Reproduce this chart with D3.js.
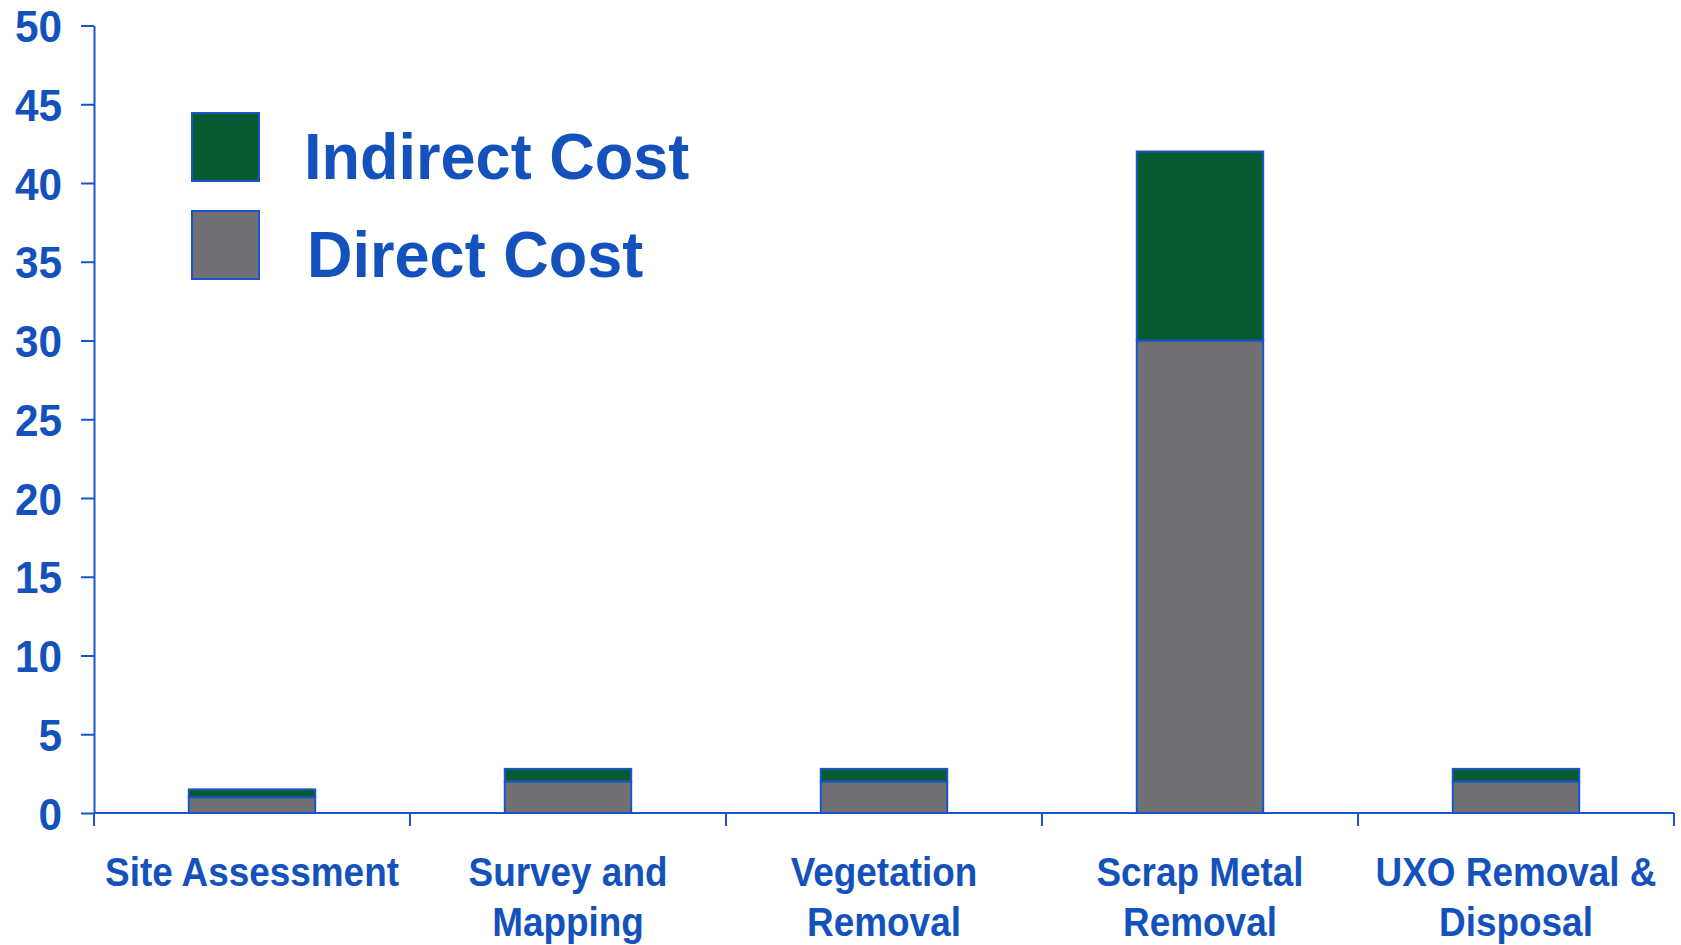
<!DOCTYPE html>
<html>
<head>
<meta charset="utf-8">
<script src="https://cdn.jsdelivr.net/npm/d3@7"></script>
<style>
  html, body { margin: 0; padding: 0; background: #fff; }
  svg { display: block; }
  text { font-family: "Liberation Sans", Arial, sans-serif; font-weight: bold; fill: #1352bd; }
</style>
</head>
<body>
<svg id="chart" width="1681" height="945"></svg>
<script>
// Cost breakdown per clearance activity
const categories = [
  ["Site Assessment"],
  ["Survey and", "Mapping"],
  ["Vegetation", "Removal"],
  ["Scrap Metal", "Removal"],
  ["UXO Removal &", "Disposal"]
];
const directCost   = [1, 2, 2, 30, 2];
const indirectCost = [0.5, 0.8, 0.8, 12, 0.8];
const yTicks = [0, 5, 10, 15, 20, 25, 30, 35, 40, 45, 50];
const seriesNames = ["Indirect Cost", "Direct Cost"];

const BLUE = "#1a55c8";
const GREEN = "#075a32";
const GREY = "#717074";

const svg = d3.select("#chart");
const plotLeft = 94, plotRight = 1674, plotTop = 25.5, plotBottom = 813;

const keys = categories.map(c => c.join(" "));
const x = d3.scaleBand().domain(keys).range([plotLeft, plotRight]).paddingInner(0).paddingOuter(0);
const y = d3.scaleLinear().domain([0, 50]).range([plotBottom, plotTop]);

const rows = keys.map((k, i) => ({ key: k, direct: directCost[i], indirect: indirectCost[i] }));
const stacked = d3.stack().keys(["direct", "indirect"])(rows);
const fills = { direct: GREY, indirect: GREEN };

const barW = x.bandwidth() * 0.4;

// stacked bars
svg.append("g").selectAll("g")
  .data(stacked)
  .join("g")
  .attr("fill", d => fills[d.key])
  .selectAll("rect")
  .data(d => d)
  .join("rect")
  .attr("x", d => x(d.data.key) + (x.bandwidth() - barW) / 2)
  .attr("y", d => y(d[1]))
  .attr("width", barW)
  .attr("height", d => y(d[0]) - y(d[1]))
  .attr("stroke", BLUE)
  .attr("stroke-width", 2);

// y axis
const yAxis = svg.append("g").attr("transform", `translate(${plotLeft},0)`)
  .call(d3.axisLeft(y).tickValues(yTicks).tickSize(13).tickSizeOuter(0).tickPadding(0));
yAxis.select(".domain").attr("stroke", BLUE).attr("stroke-width", 2);
yAxis.selectAll(".tick line").attr("stroke", BLUE).attr("stroke-width", 2);
yAxis.selectAll(".tick text").remove();
yAxis.selectAll(".tick").append("g")
  .attr("transform", "translate(-32,0) scale(0.94,1)")
  .append("text")
  .attr("text-anchor", "end")
  .attr("dy", "0.36em")
  .attr("font-size", 45)
  .text(d => d);

// x axis baseline and band boundary ticks
const xg = svg.append("g");
xg.append("line")
  .attr("x1", plotLeft).attr("x2", plotRight)
  .attr("y1", y(0)).attr("y2", y(0))
  .attr("stroke", BLUE).attr("stroke-width", 2);
const bounds = keys.map(k => x(k)).concat([x.range()[1]]);
xg.selectAll("line.tick")
  .data(bounds)
  .join("line")
  .attr("class", "tick")
  .attr("x1", d => d).attr("x2", d => d)
  .attr("y1", y(0)).attr("y2", y(0) + 13)
  .attr("stroke", BLUE).attr("stroke-width", 2);

// category labels
const labels = svg.append("g").selectAll("g")
  .data(categories)
  .join("g")
  .attr("transform", (d, i) => `translate(${x(keys[i]) + x.bandwidth() / 2},0)`);
labels.selectAll("g")
  .data(d => d)
  .join("g")
  .attr("transform", (d, j) => `translate(0,${886 + j * 50}) scale(0.9,1)`)
  .append("text")
  .attr("text-anchor", "middle")
  .attr("font-size", 41)
  .text(d => d);

// legend
const legend = svg.append("g");
const legendItems = legend.selectAll("g")
  .data(seriesNames)
  .join("g")
  .attr("transform", (d, i) => `translate(192,${113 + i * 98})`);
legendItems.append("rect")
  .attr("width", 67).attr("height", 68)
  .attr("fill", (d, i) => i === 0 ? GREEN : GREY)
  .attr("stroke", BLUE).attr("stroke-width", 2);
legendItems.append("g")
  .attr("transform", (d, i) => `translate(${i === 0 ? 112 : 115},66) scale(0.97,1)`)
  .append("text")
  .attr("font-size", 65)
  .text(d => d);
</script>
</body>
</html>
